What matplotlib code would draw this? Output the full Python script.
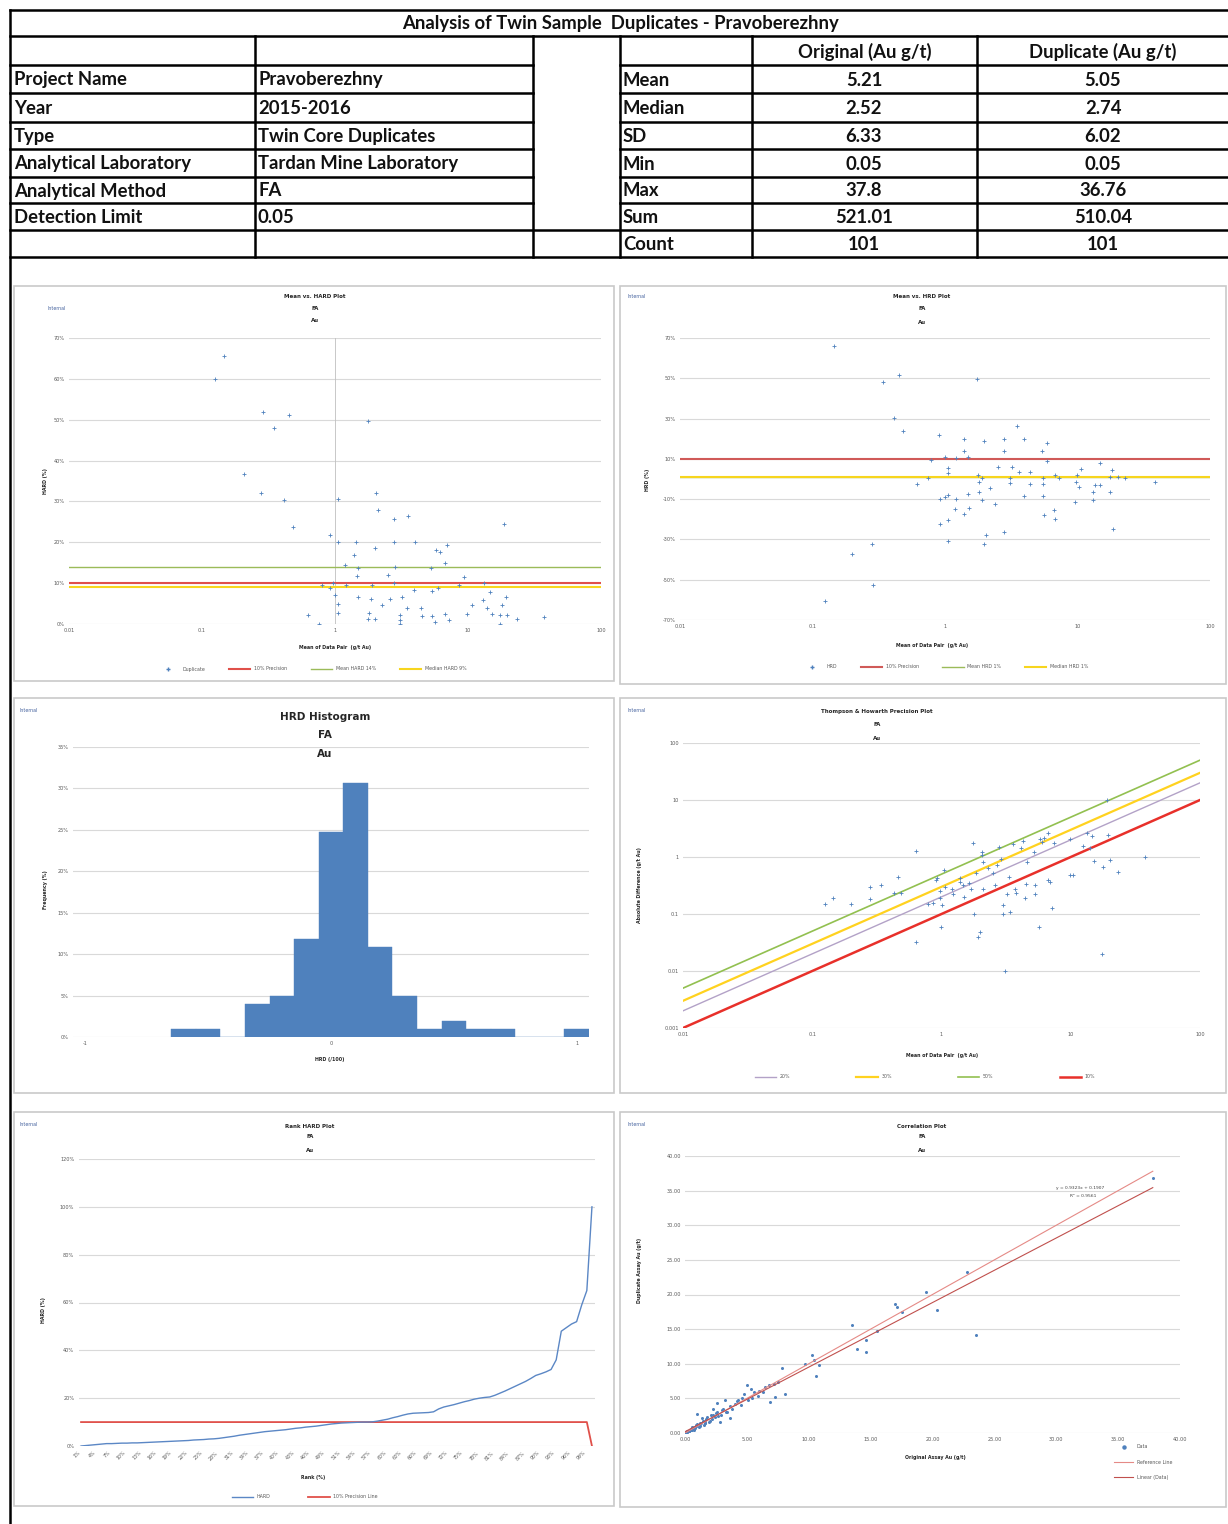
import matplotlib.pyplot as plt
from matplotlib.lines import Line2D
from matplotlib.patches import Rectangle
import numpy as np

# ---------------- summary table ----------------
table_title = 'Analysis of Twin Sample  Duplicates - Pravoberezhny'
info_labels = ['Project Name', 'Year', 'Type', 'Analytical Laboratory',
               'Analytical Method', 'Detection Limit']
info_values = ['Pravoberezhny', '2015-2016', 'Twin Core Duplicates',
               'Tardan Mine Laboratory', 'FA', '0.05']
stat_labels = ['Mean', 'Median', 'SD', 'Min', 'Max', 'Sum', 'Count']
stat_headers = ['Original (Au g/t)', 'Duplicate (Au g/t)']
original_stats = ['5.21', '2.52', '6.33', '0.05', '37.8', '521.01', '101']
duplicate_stats = ['5.05', '2.74', '6.02', '0.05', '36.76', '510.04', '101']

# ---------------- Mean vs HARD ----------------
hard_mean = [0.147, 0.126, 0.29, 0.45, 0.347, 1.76, 0.206, 0.279, 0.417, 1.05,
             2.03, 2.1, 2.79, 3.52, 18.7, 0.485, 0.91, 1.05, 1.44, 2.76,
             4.02, 2.0, 5.79, 6.2, 6.9, 1.4, 1.18, 1.5, 2.83, 5.25,
             6.7, 1.47, 2.5, 9.4, 0.8, 0.97, 1.2, 1.9, 2.8, 8.6,
             13.2, 0.92, 3.9, 5.4, 6.0, 1.0, 1.5, 1.86, 2.6, 3.2,
             14.6, 13.0, 19.2, 1.05, 2.25, 10.7, 3.5, 4.4, 13.8, 17.9,
             1.05, 1.8, 3.1, 4.5, 5.4, 6.7, 9.9, 15.2, 17.4, 19.6,
             0.63, 1.76, 2.0, 3.1, 7.2, 23.3, 37.0, 0.76, 3.1, 5.6, 17.4]
hard_pct = [65.7, 60.0, 51.8, 51.2, 47.9, 49.7, 36.7, 32.1, 30.3, 30.6,
            32.1, 27.9, 25.8, 26.5, 24.4, 23.8, 21.9, 20.0, 20.0, 20.0,
            20.0, 18.5, 18.1, 17.7, 19.3, 17.0, 14.4, 13.7, 14.0, 13.7,
            15.0, 11.7, 12.1, 11.4, 9.6, 10.0, 9.5, 9.6, 10.0, 9.6,
            10.0, 8.8, 8.3, 8.0, 8.7, 7.0, 6.6, 6.2, 6.2, 6.6,
            7.8, 5.8, 6.6, 5.0, 4.7, 4.6, 3.8, 3.8, 3.9, 4.6,
            2.7, 2.7, 2.3, 2.0, 2.0, 2.5, 2.5, 2.5, 2.1, 2.1,
            2.3, 1.3, 1.3, 1.1, 1.1, 1.3, 1.6, 0.0, 0.0, 0.5, 0.0]
precision_pct = 10
mean_hard = 14
median_hard = 9

# ---------------- Mean vs HRD ----------------
hrd_mean = [0.145, 0.34, 0.45, 1.73, 0.41, 0.48, 0.9, 1.39, 1.98, 2.78,
            3.47, 3.98, 5.9, 1.39, 2.8, 5.4, 0.78, 1.0, 1.22, 1.5,
            5.9, 14.8, 1.05, 1.05, 2.5, 3.2, 3.6, 4.4, 3.1, 3.1,
            1.77, 1.9, 1.8, 5.5, 6.8, 7.3, 9.9, 10.6, 9.8, 18.3,
            17.7, 20.2, 23.0, 38.3, 17.7, 13.6, 14.8, 13.1, 10.2, 13.1,
            9.6, 5.5, 5.5, 4.4, 3.98, 2.2, 1.8, 1.9, 1.5, 1.22,
            1.0, 0.91, 1.05, 2.4, 1.39, 1.2, 1.53, 5.6, 6.7, 6.8,
            1.06, 0.91, 2.8, 2.05, 1.98, 1.05, 18.5, 0.62, 0.74, 0.28,
            0.2, 0.285, 0.125]
hrd_pct = [65.8, 48.3, 51.7, 49.8, 30.3, 23.7, 22.0, 20.0, 18.7, 20.0,
           26.5, 20.0, 17.8, 13.7, 14.0, 14.0, 9.5, 10.7, 10.3, 10.7,
           8.7, 7.8, 5.3, 2.8, 6.2, 6.2, 3.7, 3.7, 0.3, -2.2,
           2.0, 0.3, -1.3, 0.3, 2.0, 0.7, 2.0, 4.8, -1.3, 4.5,
           1.2, 1.2, 0.7, -1.3, -6.3, -3.0, -3.0, -6.3, -3.8, -10.5,
           -11.3, -2.7, -8.3, -2.5, -8.3, -4.7, -6.3, -10.2, -7.2, -9.7,
           -8.8, -9.7, -7.7, -12.2, -17.2, -14.7, -14.3, -18.0, -15.5, -19.7,
           -20.5, -22.2, -26.3, -28.0, -32.2, -31.0, -24.7, -2.7, 0.3, -32.5,
           -37.2, -52.7, -60.5]
mean_hrd = 1
median_hrd = 1

# ---------------- HRD histogram ----------------
hrd_bins = [-0.6, -0.5, -0.4, -0.3, -0.2, -0.1, 0.0, 0.1, 0.2, 0.3,
            0.4, 0.5, 0.6, 0.7, 0.8, 0.9, 1.0]
hrd_freq = [1, 1, 0, 4, 5, 12, 25, 31, 11, 5, 1, 2, 1, 1, 0, 0, 1]

# ---------------- Thompson & Howarth ----------------
th_mean = [0.64, 1.75, 2.05, 2.05, 2.8, 3.6, 4.25, 5.8, 6.2, 6.7,
           6.0, 9.8, 13.3, 14.7, 19.3, 19.2, 37.8, 15.0, 20.0, 17.8,
           23.3, 14.0, 10.4, 9.8, 6.9, 6.7, 5.3, 5.3, 4.4, 4.5,
           3.7, 3.8, 3.3, 3.2, 2.6, 3.0, 3.0, 3.1, 5.7, 7.1,
           17.3, 1.8, 1.9, 2.0, 0.99, 0.63, 1.0, 0.97, 0.79, 0.86,
           0.98, 1.07, 1.21, 1.39, 1.4, 1.46, 1.62, 1.7, 1.84, 1.5,
           1.23, 2.1, 2.3, 2.5, 2.7, 0.92, 1.05, 0.9, 0.46, 0.49,
           0.43, 0.34, 0.28, 0.28, 0.2, 0.145, 0.125, 4.1, 5.2, 7.4,
           12.4, 4.6, 2.9, 2.1, 3.4]
th_absdiff = [1.27, 1.78, 1.23, 1.07, 1.5, 1.66, 1.9, 2.06, 2.17, 2.66,
              1.86, 2.06, 2.69, 2.3, 2.4, 9.9, 1.0, 0.85, 0.88, 0.68,
              0.55, 1.41, 0.48, 0.48, 0.37, 0.39, 0.32, 0.22, 0.19, 0.33,
              0.28, 0.23, 0.45, 0.22, 0.32, 0.145, 0.1, 0.01, 0.06, 0.13,
              0.02, 0.1, 0.04, 0.049, 0.058, 0.032, 0.145, 0.19, 0.15, 0.155,
              0.25, 0.30, 0.27, 0.43, 0.37, 0.32, 0.35, 0.27, 0.53, 0.2,
              0.22, 0.83, 0.63, 0.53, 0.72, 0.43, 0.6, 0.39, 0.45, 0.23,
              0.23, 0.32, 0.3, 0.18, 0.15, 0.19, 0.15, 1.43, 1.2, 1.73,
              1.55, 0.83, 0.94, 0.27, 0.11]
th_levels = [20, 30, 50, 10]
th_colors = ['#B3A2C7', '#FFD21F', '#92C050', '#E8302A']
th_widths = [1.0, 1.6, 1.2, 1.8]
th_range = [0.01, 100]

# ---------------- Rank HARD ----------------
rank_hard = [0.0, 0.2, 0.4, 0.6, 0.8, 1.0, 1.0, 1.1, 1.2, 1.2,
             1.3, 1.3, 1.4, 1.5, 1.6, 1.7, 1.8, 1.9, 2.0, 2.1,
             2.2, 2.3, 2.5, 2.6, 2.7, 2.9, 3.0, 3.2, 3.5, 3.8,
             4.1, 4.5, 4.8, 5.1, 5.4, 5.7, 6.0, 6.2, 6.4, 6.6,
             6.8, 7.1, 7.4, 7.6, 7.9, 8.1, 8.3, 8.6, 8.9, 9.2,
             9.4, 9.6, 9.7, 9.8, 9.9, 10.0, 10.0, 10.1, 10.4, 10.8,
             11.2, 11.8, 12.3, 12.9, 13.4, 13.7, 13.8, 13.9, 14.0, 14.3,
             15.5, 16.3, 16.8, 17.3, 17.9, 18.5, 19.0, 19.6, 20.0, 20.3,
             20.5, 21.2, 22.1, 23.0, 24.0, 25.0, 26.0, 27.0, 28.2, 29.5,
             30.2, 31.0, 32.0, 36.0, 48.0, 49.5, 51.0, 52.0, 59.0, 65.0,
             100.0]
rank_precision = [10] * 100 + [0]

# ---------------- Correlation ----------------
orig_au = [37.8, 22.8, 23.5, 19.5, 20.4, 16.98, 17.1, 17.5, 13.5, 15.5,
           14.6, 13.9, 14.6, 10.3, 10.4, 9.7, 10.8, 10.6, 7.8, 7.2,
           6.5, 5.3, 5.0, 4.8, 5.6, 5.9, 8.1, 7.3, 6.9, 4.3,
           4.0, 3.2, 2.6, 2.3, 3.1, 3.6, 2.6, 2.8, 2.1, 1.8,
           1.0, 1.4, 1.6, 1.2, 0.9, 0.7, 0.6, 0.4, 0.25, 0.1,
           0.05, 0.1, 0.2, 0.3, 0.5, 0.6, 0.8, 1.0, 1.1, 1.3,
           1.5, 1.7, 1.9, 2.2, 2.4, 2.5, 2.9, 3.0, 3.4, 3.6,
           3.8, 4.2, 4.5, 4.6, 5.1, 5.4, 6.0, 6.3, 6.8, 7.5,
           0.15, 0.35, 0.45, 0.55, 0.75, 0.85, 1.15, 1.25, 1.45, 1.65,
           2.0, 2.7, 3.3, 0.2, 0.3, 0.5, 0.7, 0.9, 1.2, 1.6, 2.3]
dup_au = [36.8, 23.2, 14.1, 20.4, 17.8, 18.7, 18.2, 17.5, 15.6, 14.7,
          13.5, 12.2, 11.7, 11.2, 10.6, 9.9, 9.8, 8.3, 9.4, 7.1,
          6.7, 6.4, 6.9, 5.7, 5.9, 5.3, 5.7, 5.2, 4.5, 4.7,
          4.2, 4.7, 4.3, 3.5, 3.5, 2.1, 3.0, 1.6, 2.6, 2.3,
          2.7, 2.1, 1.7, 1.35, 1.1, 0.9, 0.6, 0.4, 0.25, 0.1,
          0.05, 0.15, 0.3, 0.25, 0.45, 0.8, 0.7, 1.3, 0.9, 1.5,
          1.2, 2.0, 1.6, 2.0, 2.3, 2.9, 2.6, 3.3, 3.0, 3.9,
          3.5, 4.6, 4.0, 5.0, 4.8, 5.0, 6.1, 5.9, 7.0, 7.3,
          0.2, 0.3, 0.5, 0.4, 0.6, 1.0, 1.1, 1.0, 1.7, 1.4,
          1.8, 2.4, 3.1, 0.15, 0.35, 0.6, 0.5, 1.0, 1.4, 1.5, 2.6]
fit_slope = 0.9323
fit_intercept = 0.1907
fit_r2 = 0.9561

# ---------------- styles ----------------
BLUE = '#4F81BD'
RED = '#E0504A'
GREEN = '#9BBB59'
YELLOW = '#F7D51E'
GRID = '#D9D9D9'
TICK = '#595959'
TS = 3.6

W, H = 1228, 1524
fig = plt.figure(figsize=(W / 100, H / 100), dpi=100)


def box(x0, y0, x1, y1):
    return [x0 / W, 1 - y1 / H, (x1 - x0) / W, (y1 - y0) / H]


def fpos(x, y):
    return (x / W, 1 - y / H)


page = fig.add_axes([0, 0, 1, 1])
page.set_xlim(0, W)
page.set_ylim(H, 0)
page.axis('off')

# table grid
tf = dict(family='Lato', fontsize=13.3, weight='bold', color='#111111', va='center')
rows_y = [10, 36, 65, 93, 122, 149, 177, 203, 230, 257]
for i, y in enumerate(rows_y):
    if i in (0, 1, 8, 9):
        page.plot([10, 1228], [y, y], color='black', lw=1.8)
    else:
        page.plot([10, 533], [y, y], color='black', lw=1.8)
        page.plot([620, 1228], [y, y], color='black', lw=1.8)
page.plot([10, 10], [10, H], color='black', lw=1.8)
for x in (255, 533, 620, 752, 977):
    page.plot([x, x], [36, 257], color='black', lw=1.8)

page.text(620, 24, table_title, ha='center', **tf)
for i, (lab, val) in enumerate(zip(info_labels, info_values)):
    yc = (rows_y[i + 2] + rows_y[i + 3]) / 2 + 1
    page.text(14, yc, lab, ha='left', **tf)
    page.text(258, yc, val, ha='left', **tf)
for j, head in enumerate(stat_headers):
    page.text((752, 977)[j] + (225, 251)[j] / 2, 52, head, ha='center', **tf)
for i, lab in enumerate(stat_labels):
    yc = (rows_y[i + 2] + rows_y[i + 3]) / 2 + 1
    page.text(623, yc, lab, ha='left', **tf)
    page.text(864, yc, original_stats[i], ha='center', **tf)
    page.text(1103, yc, duplicate_stats[i], ha='center', **tf)

# chart frames
panels = [(14, 286, 614, 681), (620, 286, 1226, 684),
          (14, 698, 614, 1093), (620, 698, 1226, 1093),
          (14, 1112, 614, 1506), (620, 1112, 1226, 1507)]
for x0, y0, x1, y1 in panels:
    page.add_patch(Rectangle((x0, y0), x1 - x0, y1 - y0, fill=False,
                             edgecolor='#C9C9C9', lw=1.2))

internal_pos = [(47, 308), (628, 297), (20, 711), (628, 710), (20, 1124), (628, 1124)]
for x, y in internal_pos:
    page.text(x, y, 'Internal', fontsize=3.4, color='#44619E', va='center')


def titles(cx, ys, lines, size=4.0):
    for y, t in zip(ys, lines):
        page.text(cx, y, t, ha='center', va='center', fontsize=size,
                  weight='bold', color='#262626')


def style(ax):
    ax.set_facecolor('none')
    for s in ax.spines.values():
        s.set_visible(False)
    ax.tick_params(length=0, labelsize=TS, labelcolor=TICK, pad=3)
    ax.grid(axis='y', color=GRID, lw=0.8)
    ax.set_axisbelow(True)


def ylabel(x, y, t):
    page.text(x, y, t, rotation=90, ha='center', va='center', fontsize=3.4,
              weight='bold', color='#262626')


def xlabel(x, y, t):
    page.text(x, y, t, ha='center', va='center', fontsize=3.4,
              weight='bold', color='#262626')


def legend(handles, labels, x, y, ncol, spacing):
    fig.legend(handles, labels, loc='center', bbox_to_anchor=fpos(x, y),
               ncol=ncol, frameon=False, fontsize=3.4, handlelength=4.5,
               columnspacing=spacing, labelcolor=TICK)


log_labels = ['0.01', '0.1', '1', '10', '100']

# --- Mean vs HARD ---
ax1 = fig.add_axes(box(69, 338, 601, 624))
style(ax1)
ax1.set_xscale('log')
ax1.set_xlim(0.01, 100)
ax1.set_ylim(0, 70)
ax1.set_xticks([0.01, 0.1, 1, 10, 100], log_labels)
ax1.minorticks_off()
ax1.set_yticks(range(0, 71, 10), [f'{v}%' for v in range(0, 71, 10)])
ax1.axvline(1, color='#BFBFBF', lw=0.6)
ax1.axhline(precision_pct, color=RED, lw=1.5)
ax1.axhline(median_hard, color=YELLOW, lw=1.5)
ax1.axhline(mean_hard, color=GREEN, lw=1.0)
ax1.plot(hard_mean, hard_pct, '+', color=BLUE, ms=3, mew=0.6)
titles(315, (297, 308, 321), ['Mean vs. HARD Plot', 'FA', 'Au'])
ylabel(45, 481, 'HARD (%)')
xlabel(335, 647, 'Mean of Data Pair  (g/t Au)')
legend([Line2D([], [], ls='none', marker='+', color=BLUE, ms=3),
        Line2D([], [], color=RED, lw=1.5),
        Line2D([], [], color=GREEN, lw=1),
        Line2D([], [], color=YELLOW, lw=1.5)],
       ['Duplicate', f'{precision_pct}% Precision', f'Mean HARD {mean_hard}%',
        f'Median HARD {median_hard}%'], 312, 669, 4, 5)

# --- Mean vs HRD ---
ax2 = fig.add_axes(box(680, 338, 1210, 620))
style(ax2)
ax2.set_xscale('log')
ax2.set_xlim(0.01, 100)
ax2.set_ylim(-70, 70)
ax2.set_xticks([0.01, 0.1, 1, 10, 100], log_labels)
ax2.minorticks_off()
ax2.set_yticks(range(-70, 71, 20), [f'{v}%' for v in range(-70, 71, 20)])
ax2.axhline(precision_pct, color='#D05A58', lw=1.5)
ax2.axhline(mean_hrd, color=GREEN, lw=1.0)
ax2.axhline(median_hrd, color=YELLOW, lw=1.5)
ax2.plot(hrd_mean, hrd_pct, '+', color=BLUE, ms=3, mew=0.6)
titles(922, (297, 309, 322), ['Mean vs. HRD Plot', 'FA', 'Au'])
ylabel(648, 480, 'HRD (%)')
xlabel(932, 645, 'Mean of Data Pair  (g/t Au)')
legend([Line2D([], [], ls='none', marker='+', color=BLUE, ms=3),
        Line2D([], [], color='#D05A58', lw=1.5),
        Line2D([], [], color=GREEN, lw=1),
        Line2D([], [], color=YELLOW, lw=1.5)],
       ['HRD', f'{precision_pct}% Precision', f'Mean HRD {mean_hrd}%',
        f'Median HRD {median_hrd}%'], 945, 667, 4, 5)

# --- HRD histogram ---
ax3 = fig.add_axes(box(73, 747, 589, 1037))
style(ax3)
freq_pct = [100 * c / sum(hrd_freq) for c in hrd_freq]
ax3.bar(hrd_bins, freq_pct, width=0.1, color=BLUE, edgecolor=BLUE, lw=0.3)
ax3.set_xlim(-1.05, 1.05)
ax3.set_ylim(0, 35)
ax3.set_xticks([-1, 0, 1], ['-1', '0', '1'])
ax3.set_yticks(range(0, 36, 5), [f'{v}%' for v in range(0, 36, 5)])
titles(325, (717, 735, 754), ['HRD Histogram', 'FA', 'Au'], size=7.5)
ylabel(45, 890, 'Frequency (%)')
xlabel(330, 1060, 'HRD (/100)')

# --- Thompson & Howarth ---
ax4 = fig.add_axes(box(683, 743, 1200, 1028))
style(ax4)
ax4.set_xscale('log')
ax4.set_yscale('log')
ax4.set_xlim(0.01, 100)
ax4.set_ylim(0.001, 100)
ax4.set_xticks([0.01, 0.1, 1, 10, 100], log_labels)
ax4.set_yticks([0.001, 0.01, 0.1, 1, 10, 100],
               ['0.001', '0.01', '0.1', '1', '10', '100'])
ax4.minorticks_off()
xr = np.array(th_range)
th_handles = []
for lvl, col, lw in zip(th_levels, th_colors, th_widths):
    ax4.plot(xr, xr * lvl / 100, color=col, lw=lw)
    th_handles.append(Line2D([], [], color=col, lw=lw))
ax4.plot(th_mean, th_absdiff, '+', color=BLUE, ms=3, mew=0.6)
titles(877, (712, 725, 738), ['Thompson & Howarth Precision Plot', 'FA', 'Au'])
ylabel(640, 885, 'Absolute Difference (g/t Au)')
xlabel(942, 1055, 'Mean of Data Pair  (g/t Au)')
legend(th_handles, [f'{v}%' for v in th_levels], 925, 1077, 4, 14)

# --- Rank HARD ---
ax5 = fig.add_axes(box(78.5, 1159, 594.5, 1446))
style(ax5)
ranks = np.arange(1, len(rank_hard) + 1)
ax5.plot(ranks, rank_precision, color=RED, lw=1.3)
ax5.plot(ranks, rank_hard, color='#5B87C5', lw=1.0)
ax5.set_xlim(0.5, len(rank_hard) + 0.5)
ax5.set_ylim(0, 120)
ax5.set_yticks(range(0, 121, 20), [f'{v}%' for v in range(0, 121, 20)])
tick_idx = ranks[::3]
ax5.set_xticks(tick_idx, [f'{100 * i / len(ranks):.0f}%' for i in tick_idx],
               rotation=45, ha='right', fontsize=3.4)
titles(310, (1126, 1137, 1150), ['Rank HARD Plot', 'FA', 'Au'])
ylabel(44, 1310, 'HARD (%)')
xlabel(313, 1477, 'Rank (%)')
legend([Line2D([], [], color='#5B87C5', lw=1), Line2D([], [], color=RED, lw=1.3)],
       ['HARD', '10% Precision Line'], 305, 1497, 2, 8)

# --- Correlation ---
ax6 = fig.add_axes(box(685, 1156, 1180, 1433))
style(ax6)
ax6.set_xlim(0, 40)
ax6.set_ylim(0, 40)
ax6.set_xticks(range(0, 41, 5), [f'{v:.2f}' for v in range(0, 41, 5)])
ax6.set_yticks(range(0, 41, 5), [f'{v:.2f}' for v in range(0, 41, 5)])
ax6.plot(orig_au, dup_au, 'o', color=BLUE, ms=2.2, mew=0)
xmax = max(orig_au)
ax6.plot([0, xmax], [0, xmax], color='#E58A86', lw=0.8)
ax6.plot([0, xmax], [fit_intercept, fit_slope * xmax + fit_intercept],
         color='#C0504D', lw=0.8)
page.text(1080, 1188, f'y = {fit_slope}x + {fit_intercept}', ha='center',
          va='center', fontsize=3.2, color='#404040')
page.text(1083, 1196, f'R² = {fit_r2}', ha='center', va='center',
          fontsize=3.2, color='#404040')
titles(922, (1126, 1137, 1150), ['Correlation Plot', 'FA', 'Au'])
ylabel(640, 1270, 'Duplicate Assay Au (g/t)')
xlabel(935, 1457, 'Original Assay Au (g/t)')
fig.legend([Line2D([], [], ls='none', marker='o', color=BLUE, ms=2.2),
            Line2D([], [], color='#E58A86', lw=0.8),
            Line2D([], [], color='#C0504D', lw=0.8)],
           ['Data', 'Reference Line', 'Linear (Data)'], loc='upper left',
           bbox_to_anchor=fpos(1110, 1440), frameon=False, fontsize=3.4,
           handlelength=4, labelspacing=2.2, labelcolor=TICK)

fig.savefig('out.png', dpi=100, facecolor='white')
